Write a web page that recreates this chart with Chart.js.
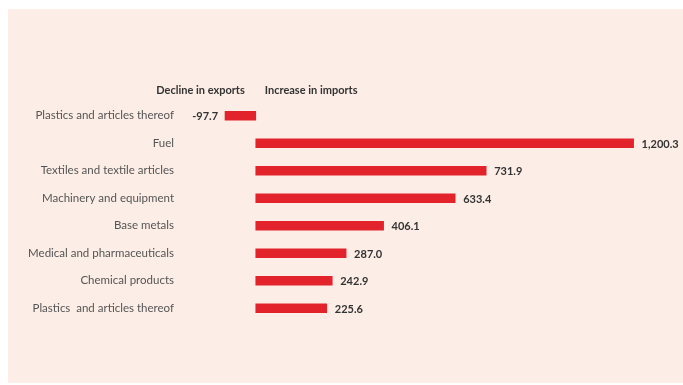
<!DOCTYPE html>
<html>
<head>
<meta charset="utf-8">
<script src="https://cdn.jsdelivr.net/npm/chart.js@4"></script>
<style>
  html, body { margin: 0; padding: 0; background: #ffffff; }
  #wrap { width: 683px; height: 385px; position: relative; }
</style>
</head>
<body>
<div id="wrap"><canvas id="c" width="683" height="385"></canvas></div>
<script>
const categories = [
  "Plastics and articles thereof",
  "Fuel",
  "Textiles and textile articles",
  "Machinery and equipment",
  "Base metals",
  "Medical and pharmaceuticals",
  "Chemical products",
  "Plastics  and articles thereof"
];
const values = [-97.7, 1200.3, 731.9, 633.4, 406.1, 287.0, 242.9, 225.6];
const headerLeft = "Decline in exports";
const headerRight = "Increase in imports";

const FONT = "Lato, 'Noto Sans', 'Liberation Sans', sans-serif";

function fmt(v) {
  return v.toLocaleString('en-US', { minimumFractionDigits: 1, maximumFractionDigits: 1 });
}

const bgPlugin = {
  id: 'bg',
  beforeDraw(chart) {
    const ctx = chart.ctx;
    ctx.save();
    ctx.fillStyle = '#ffffff';
    ctx.fillRect(0, 0, chart.width, chart.height);
    ctx.fillStyle = '#fcede6';
    ctx.fillRect(8, 9, chart.width - 8, chart.height - 11);
    ctx.restore();
  }
};

const labelPlugin = {
  id: 'labels',
  afterDatasetsDraw(chart) {
    const ctx = chart.ctx;
    const xs = chart.scales.x;
    const zero = xs.getPixelForValue(0);
    const meta = chart.getDatasetMeta(0);
    ctx.save();
    ctx.fillStyle = '#333333';
    ctx.font = "bold 11px " + FONT;
    ctx.textBaseline = 'middle';
    // headers
    const hy = chart.chartArea.top - 12;
    ctx.textAlign = 'right';
    ctx.fillText(headerLeft, zero - 11, hy);
    ctx.textAlign = 'left';
    ctx.fillText(headerRight, zero + 9, hy);
    // values
    meta.data.forEach((bar, i) => {
      const v = values[i];
      const p = bar.getProps(['x', 'y', 'base'], true);
      if (v >= 0) {
        ctx.textAlign = 'left';
        ctx.fillText(fmt(v), p.x + 8, p.y + 1);
      } else {
        ctx.textAlign = 'right';
        ctx.fillText(fmt(v), p.x - 7, p.y + 1);
      }
    });
    ctx.restore();
  }
};

new Chart(document.getElementById('c'), {
  type: 'bar',
  data: {
    labels: categories,
    datasets: [{
      data: values,
      backgroundColor: '#e3232b',
      borderWidth: 0,
      barThickness: 9
    }]
  },
  options: {
    indexAxis: 'y',
    responsive: false,
    animation: false,
    layout: { padding: { top: 102, bottom: 63, left: 0, right: 18 } },
    plugins: { legend: { display: false }, tooltip: { enabled: false } },
    scales: {
      x: {
        display: false,
        min: -228,
        max: 1300
      },
      y: {
        grid: { display: false, drawTicks: false },
        border: { display: false },
        ticks: {
          color: '#555555',
          font: { family: FONT, size: 11.5 },
          padding: 10
        },
        afterFit(scale) { scale.width = 184; }
      }
    }
  },
  plugins: [bgPlugin, labelPlugin]
});
</script>
</body>
</html>
